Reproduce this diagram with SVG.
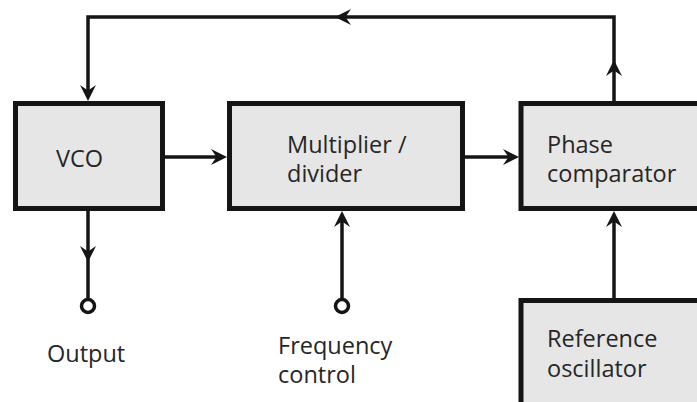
<svg xmlns="http://www.w3.org/2000/svg" xmlns:xlink="http://www.w3.org/1999/xlink" width="697" height="402" viewBox="0 0 697 402">
<style>
.box{fill:#e6e6e6;stroke:#151515;stroke-width:5}
.ln{fill:none;stroke:#151515;stroke-width:3.5}
.term{fill:#ffffff;stroke:#151515;stroke-width:3.5}
.ah{fill:#151515}
text{font-family:"Open Sans","Liberation Sans",sans-serif;font-size:23.5px;fill:#262626}
</style>
<defs>
<path id="ah" d="M0,0 L-16,-8 L-10.5,0 L-16,8 Z"/>
</defs>
<rect width="697" height="402" fill="#ffffff"/>
<g id="connectors">
<path class="ln" d="M614,101 V17 H88 V94"/>
<path class="ln" d="M165,157 H220"/>
<path class="ln" d="M465,157 H512"/>
<path class="ln" d="M88,211 V298"/>
<path class="ln" d="M342,298 V218"/>
<path class="ln" d="M614,298 V218"/>
<g class="ah">
<use xlink:href="#ah" transform="translate(88,101) rotate(90)"/>
<use xlink:href="#ah" transform="translate(335,17) rotate(180)"/>
<use xlink:href="#ah" transform="translate(614,60) rotate(-90)"/>
<use xlink:href="#ah" transform="translate(227,157)"/>
<use xlink:href="#ah" transform="translate(519,157)"/>
<use xlink:href="#ah" transform="translate(88,262) rotate(90)"/>
<use xlink:href="#ah" transform="translate(342,211) rotate(-90)"/>
<use xlink:href="#ah" transform="translate(614,211) rotate(-90)"/>
</g>
</g>
<g id="vco">
<rect class="box" x="15.5" y="103.5" width="147" height="105"/>
<text x="56" y="167">VCO</text>
</g>
<g id="multiplier">
<rect class="box" x="229.5" y="103.5" width="233" height="105"/>
<text x="287" y="153">Multiplier /</text>
<text x="287" y="182">divider</text>
</g>
<g id="phase-comparator">
<rect class="box" x="521" y="103.5" width="200" height="105"/>
<text x="547" y="153">Phase</text>
<text x="547" y="182">comparator</text>
</g>
<g id="reference-oscillator">
<rect class="box" x="521" y="300.5" width="200" height="130"/>
<text x="547" y="347">Reference</text>
<text x="547" y="377">oscillator</text>
</g>
<g id="output">
<circle class="term" cx="88" cy="306" r="6.5"/>
<text x="47" y="362">Output</text>
</g>
<g id="frequency-control">
<circle class="term" cx="342" cy="306" r="6.5"/>
<text x="278" y="354">Frequency</text>
<text x="278" y="383">control</text>
</g>
</svg>
